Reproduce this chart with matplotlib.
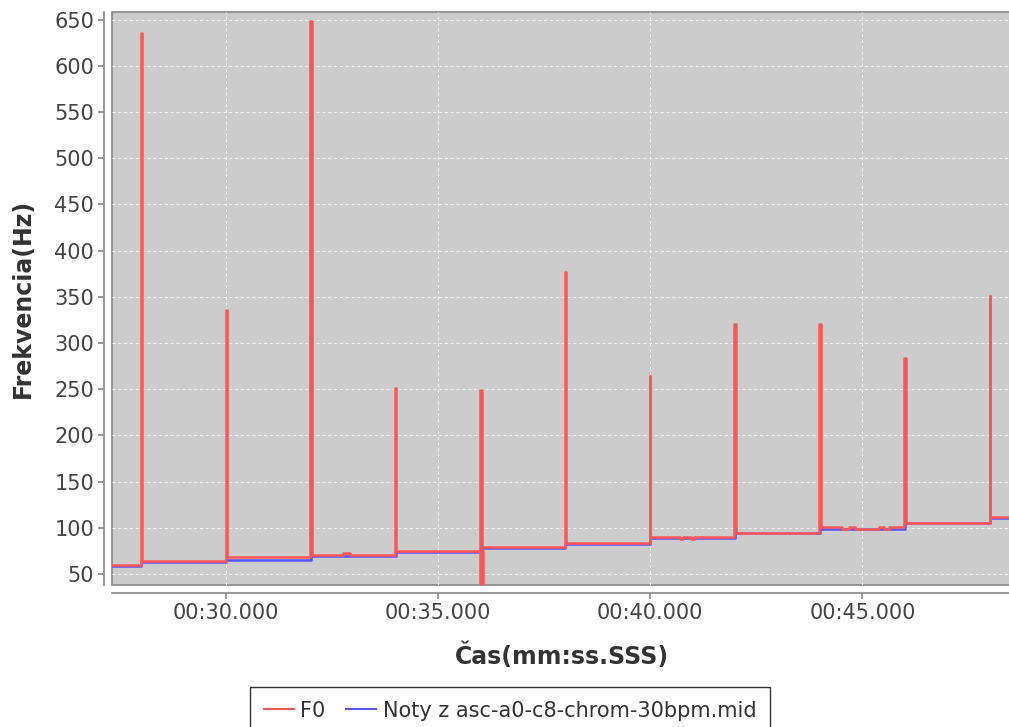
import matplotlib
matplotlib.use("Agg")
import matplotlib.pyplot as plt
from matplotlib.ticker import FuncFormatter, MultipleLocator

# note onsets (s) of the chromatic scale, one note every 2 s
onsets = [28, 30, 32, 34, 36, 38, 40, 42, 44, 46, 48]

# detected F0 level (Hz) before the first onset and after each onset
f0_levels = [59.4, 64.0, 68.1, 70.2, 74.9, 78.9, 83.9, 89.7, 94.7, 100.5, 105.6, 112.1]
# F0 spikes at each onset
spike_peaks = [635.6, 336.0, 648.2, 251.0, 249.4, 377.0, 264.4, 321.0, 321.0, 283.5, 351.0]
spike_len = [0.04, 0.02, 0.04, 0.02, 0.04, 0.04, 0.0, 0.04, 0.04, 0.04, 0.0]
spike_floor = [None, None, None, None, 20.0, None, None, None, None, None, None]
# short deviations of F0 inside a note: (start, end, Hz)
f0_glitches = [(32.76, 32.92, 72.7), (40.69, 40.78, 87.5), (40.97, 41.04, 87.5),
               (44.52, 44.69, 98.5), (44.83, 45.40, 98.5), (45.52, 45.63, 98.5)]

# MIDI note frequencies (Hz)
note_hz = [58.3, 63.3, 65.4, 69.5, 74.0, 78.2, 83.0, 89.0, 94.0, 98.7, 104.8, 111.0]

t_start, t_end = 27.3, 48.6


def f0_path():
    ts, hs = [t_start], [f0_levels[0]]
    for i, t in enumerate(onsets):
        prev = f0_levels[i]
        t1 = t - spike_len[i] / 2
        t2 = t + spike_len[i] / 2
        ts += [t1, t1, t2]
        hs += [prev, spike_peaks[i], spike_peaks[i]]
        if spike_floor[i] is not None:
            # spike that also drops below the axis
            ts += [t2, t1 + 0.01, t1 + 0.01, t2 + 0.03, t2 + 0.03, t2]
            hs += [spike_floor[i], spike_floor[i], prev, prev, spike_floor[i], spike_floor[i]]
        ts += [t2]
        hs += [f0_levels[i + 1]]
        for g0, g1, gv in f0_glitches:
            if t < g0 < t + 2:
                base = f0_levels[i + 1]
                ts += [g0, g0, g1, g1]
                hs += [base, gv, gv, base]
    ts.append(t_end)
    hs.append(f0_levels[-1])
    return ts, hs


fig = plt.figure(figsize=(10.09, 7.27), dpi=100)
ax = fig.add_axes([112 / 1009, 1 - 585 / 727, 1 - 112 / 1009 + 0.003, 573 / 727])
ax.set_facecolor("#cccccc")

nt = [t_start] + onsets + [t_end]
nh = note_hz + [note_hz[-1]]
ax.plot(nt, nh, drawstyle="steps-post", color="#5555ff", lw=1.8, zorder=3,
        label="Noty z asc-a0-c8-chrom-30bpm.mid")
ft, fh = f0_path()
ax.plot(ft, fh, color="#ff5555", lw=1.8, zorder=4, label="F0")

ax.set_xlim(27.307, 48.53)
ax.set_ylim(38.1, 658.3)
ax.yaxis.set_major_locator(MultipleLocator(50))
ax.xaxis.set_major_locator(MultipleLocator(5))
ax.xaxis.set_major_formatter(FuncFormatter(
    lambda v, _: "%02d:%06.3f" % (int(v // 60), v % 60)))

ax.grid(color="#f2f2f2", linestyle=(0, (3, 3)), linewidth=0.7, zorder=1)
ax.set_axisbelow(True)

for side in ("top", "right"):
    ax.spines[side].set_visible(False)
for side in ("left", "bottom"):
    ax.spines[side].set_position(("outward", 6))
    ax.spines[side].set_color("#888888")
    ax.spines[side].set_linewidth(1.2)
ax.patch.set_edgecolor("#888888")
ax.patch.set_linewidth(1.2)

ax.tick_params(axis="both", colors="#888888", labelcolor="#444444",
               labelsize=15, length=4, width=1.2, pad=3)

ax.set_ylabel("Frekvencia(Hz)", fontsize=17, fontweight="bold", color="#333333",
              labelpad=14)
ax.set_xlabel("Čas(mm:ss.SSS)", fontsize=17, fontweight="bold", color="#333333",
              labelpad=14)

h, l = ax.get_legend_handles_labels()
leg = fig.legend(h[::-1], l[::-1], loc="upper center",
                 bbox_to_anchor=(510 / 1009, 1 - 687 / 727), ncol=2,
                 fontsize=15, frameon=True, fancybox=False, handlelength=1.45,
                 handletextpad=0.3, columnspacing=1.0, borderpad=0.65,
                 borderaxespad=0, labelcolor="#333333")
leg.get_frame().set_edgecolor("black")
leg.get_frame().set_linewidth(1.0)
for line in leg.get_lines():
    line.set_linewidth(1.5)

fig.savefig("out.png", dpi=100)
